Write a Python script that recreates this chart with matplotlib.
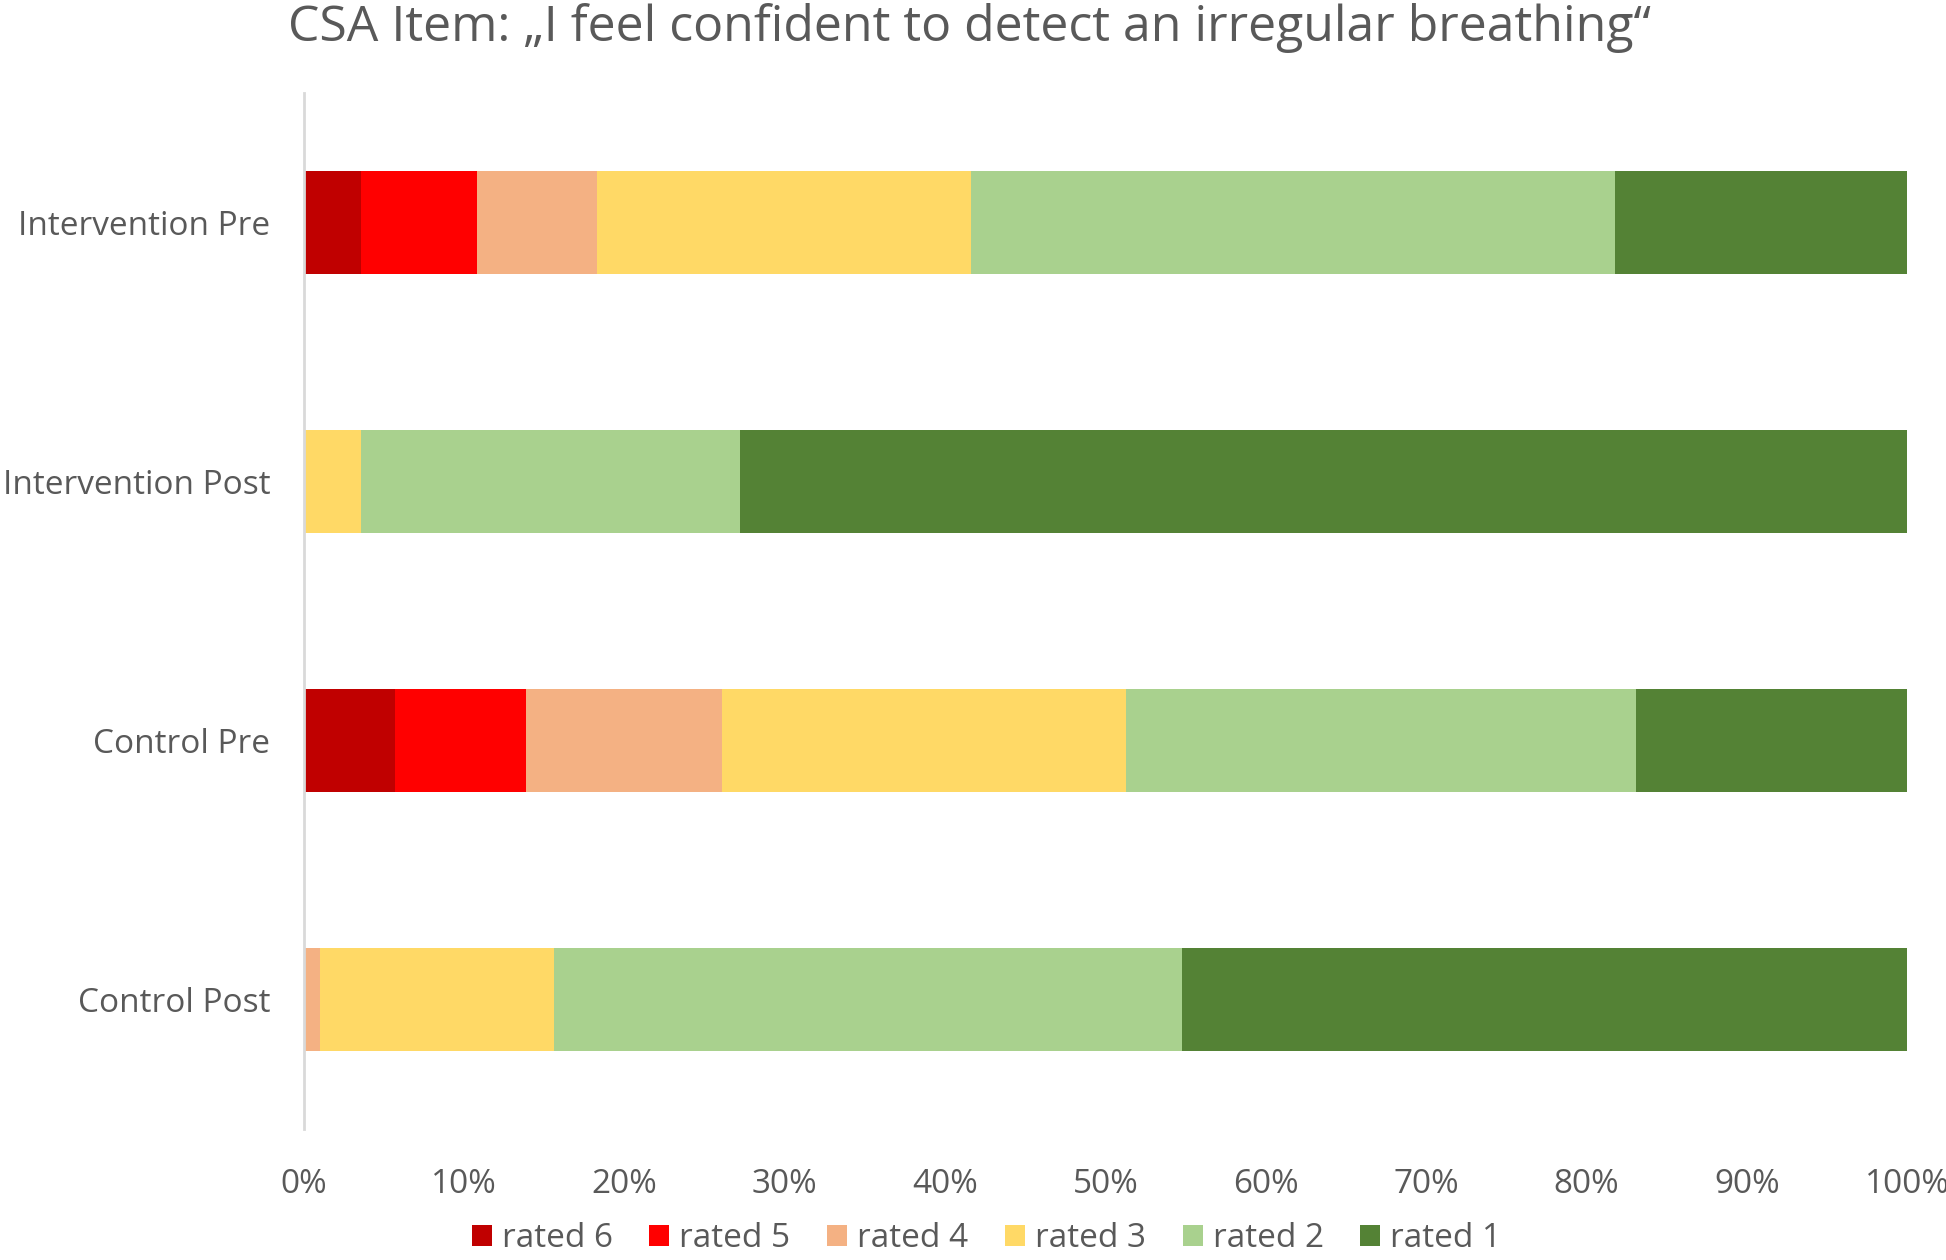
import numpy as np
import matplotlib
matplotlib.use("Agg")
import matplotlib.pyplot as plt
from matplotlib.ticker import PercentFormatter

plt.rcParams["font.family"] = ["Open Sans", "DejaVu Sans"]

groups = ["Intervention Pre", "Intervention Post", "Control Pre", "Control Post"]
series = ["rated 6", "rated 5", "rated 4", "rated 3", "rated 2", "rated 1"]

# share of answers (%) per group, one list per rating
rated_6 = [3.6, 0.0, 5.7, 0.0]
rated_5 = [7.2, 0.0, 8.2, 0.0]
rated_4 = [7.5, 0.0, 12.2, 1.0]
rated_3 = [23.3, 3.6, 25.2, 14.6]
rated_2 = [40.2, 23.6, 31.8, 39.2]
rated_1 = [18.2, 72.8, 16.9, 45.2]

colors = ["#C00000", "#FF0000", "#F4B183", "#FFD966", "#A9D18E", "#548235"]
text_color = "#595959"

values = [rated_6, rated_5, rated_4, rated_3, rated_2, rated_1]

fig = plt.figure(figsize=(19.46, 12.6), dpi=100)
ax = fig.add_axes([0.156, 0.104, 0.824, 0.822])

y = np.arange(len(groups))
left = np.zeros(len(groups))
for name, vals, col in zip(series, values, colors):
    vals = np.array(vals)
    ax.barh(y, vals, left=left, height=0.40, color=col, label=name, linewidth=0)
    left += vals

ax.set_xlim(0, 100)
ax.set_ylim(3.5, -0.5)
ax.set_yticks(y)
ax.set_yticklabels(groups)
ax.set_xticks(np.arange(0, 101, 10))
ax.xaxis.set_major_formatter(PercentFormatter(decimals=0))
ax.tick_params(axis="both", length=0, labelsize=24, colors=text_color)
ax.tick_params(axis="y", pad=24)
ax.tick_params(axis="x", pad=28)

for s in ["top", "right", "bottom"]:
    ax.spines[s].set_visible(False)
ax.spines["left"].set_color("#D9D9D9")
ax.spines["left"].set_linewidth(2)

fig.text(0.498, 0.978, "CSA Item: \u201eI feel confident to detect an irregular breathing\u201c",
         fontsize=36, color=text_color, ha="center", va="center")

fig.legend(loc="lower center", bbox_to_anchor=(0.507, -0.020), ncol=6, frameon=False,
           fontsize=24, labelcolor=text_color, handlelength=0.6, handleheight=0.6,
           handletextpad=0.3, columnspacing=1.1)

fig.savefig("out.png", dpi=100)
